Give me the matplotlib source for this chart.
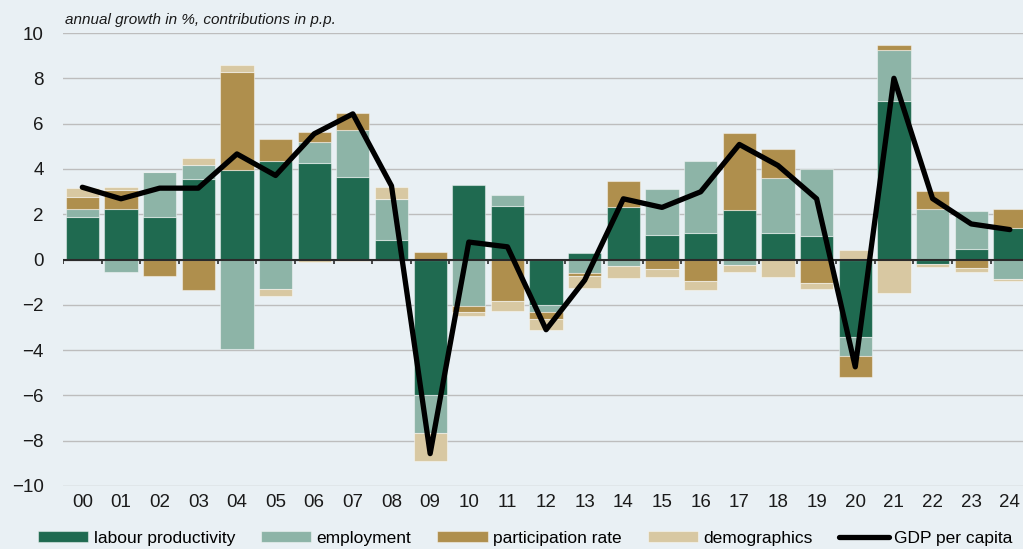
import numpy as np
import matplotlib
matplotlib.use('Agg')
import matplotlib.pyplot as plt

# ==============================
# Dados
# ==============================
years = ['00', '01', '02', '03', '04', '05', '06', '07', '08', '09', '10', '11', '12',
         '13', '14', '15', '16', '17', '18', '19', '20', '21', '22', '23', '24']

labour_productivity = [1.87, 2.24, 1.87, 3.56, 3.96, 4.36, 4.24, 3.64, 0.85, -6.00, 3.28, 2.36, -1.99,
                       0.29, 2.33, 1.07, 1.15, 2.19, 1.15, 1.03, -3.41, 6.98, -0.19, 0.47, 1.41]
employment = [0.34, -0.56, 1.99, 0.60, -3.97, -1.29, 0.93, 2.09, 1.84, -1.65, -2.06, 0.47, -0.33,
              -0.59, -0.29, 2.05, 3.21, -0.25, 2.47, 2.96, -0.83, 2.25, 2.24, 1.66, -0.84]
participation_rate = [0.53, 0.85, -0.71, -1.35, 4.31, 0.97, 0.48, 0.76, 0.0, 0.35, -0.24, -1.85, -0.30,
                      -0.12, 1.14, -0.44, -0.97, 3.40, 1.27, -1.03, -0.94, 0.25, 0.79, -0.39, 0.81]
demographics = [0.43, 0.12, 0.0, 0.34, 0.33, -0.31, -0.12, -0.06, 0.53, -1.25, -0.20, -0.43, -0.50,
                -0.54, -0.52, -0.32, -0.39, -0.28, -0.76, -0.26, 0.44, -1.47, -0.15, -0.18, -0.10]
gdp_per_capita = [3.19, 2.68, 3.15, 3.15, 4.66, 3.71, 5.55, 6.43, 3.25, -8.57, 0.77, 0.56, -3.10,
                  -0.91, 2.68, 2.30, 2.99, 5.08, 4.15, 2.68, -4.74, 8.00, 2.69, 1.57, 1.32]

series = [
    ('labour productivity', labour_productivity, '#1F6A50'),
    ('employment', employment, '#8DB4A7'),
    ('participation rate', participation_rate, '#AF8F4D'),
    ('demographics', demographics, '#D8C8A2'),
]

bg = '#E9F0F4'
plt.rcParams['font.family'] = ['Liberation Sans', 'DejaVu Sans']

# ==============================
# Gráfico
# ==============================
fig = plt.figure(figsize=(10.23, 5.49), dpi=100, facecolor=bg)
ax = fig.add_axes([63 / 1023, 1 - 486 / 549, 1 - 63 / 1023, (486 - 33) / 549])
ax.set_facecolor(bg)

x = np.arange(len(years))
pos_bottom = np.zeros(len(years))
neg_bottom = np.zeros(len(years))
handles = []
for name, vals, col in series:
    v = np.array(vals)
    bottom = np.where(v >= 0, pos_bottom, neg_bottom)
    b = ax.bar(x, v, 0.86, bottom=bottom, color=col, label=name,
               edgecolor=(1, 1, 1, 0.45), linewidth=0.8, zorder=2)
    handles.append(b)
    pos_bottom += np.clip(v, 0, None)
    neg_bottom += np.clip(v, None, 0)

line, = ax.plot(x, gdp_per_capita, color='black', lw=3.8, label='GDP per capita', zorder=4,
                solid_joinstyle='round', solid_capstyle='round')
handles.append(line)

# grade e eixo zero
ax.set_ylim(-10, 10)
ax.set_xlim(-0.5, 24.34)
ax.set_yticks(range(-10, 11, 2))
ax.yaxis.grid(True, color='#BDBDBD', lw=1.0, zorder=0)
ax.axhline(0, color='#2B2B2B', lw=1.5, zorder=3)
ax.vlines(np.arange(-0.5, len(years), 1), -0.22, 0, color='#2B2B2B', lw=1.2, zorder=3)

ax.set_xticks(x)
ax.set_xticklabels(years)
ax.tick_params(axis='both', length=0, labelsize=13.5, colors='#1A1A1A')
ax.tick_params(axis='y', pad=14)
ax.tick_params(axis='x', pad=6)
for s in ax.spines.values():
    s.set_visible(False)

ax.text(0.002, 1.028, 'annual growth in %, contributions in p.p.', transform=ax.transAxes,
        fontsize=11, style='italic', color='#1A1A1A', va='center', ha='left')

fig.legend(handles=handles, loc='center left', bbox_to_anchor=(38 / 1023, 1 - 538 / 549), ncol=5,
           frameon=False, fontsize=12.5, handlelength=2.9, handleheight=0.55,
           handletextpad=0.3, columnspacing=1.5, borderpad=0, borderaxespad=0)

fig.savefig('out.png', dpi=100, facecolor=bg)
